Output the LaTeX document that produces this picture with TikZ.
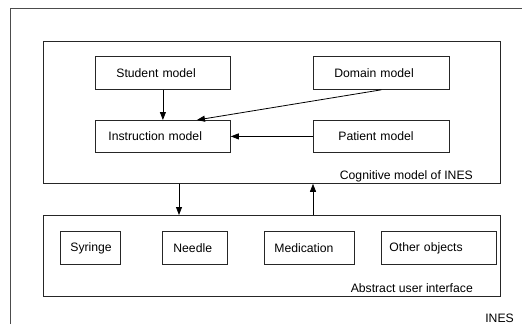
\documentclass[tikz,border=0pt]{standalone}
\usepackage{fontspec}
\setmainfont{Liberation Sans}
\usetikzlibrary{arrows.meta}
\begin{document}
\begin{tikzpicture}[x=1pt,y=-1pt,
  box/.style={draw=black!85,line width=0.8pt},
  item/.style={draw=black!85,line width=0.8pt,inner xsep=0pt,inner ysep=0pt,align=left,
    font=\fontsize{12.2}{14}\selectfont,anchor=north west},
  lbl/.style={inner sep=0pt,anchor=east,font=\fontsize{12.2}{14}\selectfont},
  arr/.style={line width=0.8pt,-{Triangle[length=8pt,width=6pt]}}]
\useasboundingbox (0,0) rectangle (522,324);
% outer frame (open on right and bottom)
\draw[draw=black!70,line width=0.8pt] (10,324) -- (10,8) -- (522,8);
% cognitive model
\node[box,minimum width=457pt,minimum height=142pt,anchor=north west,inner sep=0pt] (cog) at (43,41) {};
\node[item,text width=135pt,minimum height=33pt] (student) at (95,56) {\hspace*{21pt}Student model};
\node[item,text width=136pt,minimum height=33pt] (domain) at (313,56) {\hspace*{21pt}Domain model};
\node[item,text width=135pt,minimum height=32pt] (instr) at (95,120) {\hspace*{13pt}Instruction model};
\node[item,text width=136pt,minimum height=32pt] (patient) at (313,120) {\hspace*{25pt}Patient model};
\node[lbl] (coglbl) at (473,176) {Cognitive model of INES};
\draw[arr] (student) -- (instr);
\draw[arr] (domain.south) -- ([xshift=34pt]instr.north);
\draw[arr] (patient) -- (instr);
% abstract user interface
\node[box,minimum width=457pt,minimum height=81pt,anchor=north west,inner sep=0pt] (aui) at (43,215) {};
\node[item,text width=60pt,minimum height=33pt] (syringe) at (60,231) {\hspace*{10pt}Syringe};
\node[item,text width=65pt,minimum height=33pt] (needle) at (162,231) {\hspace*{11pt}Needle};
\node[item,text width=90pt,minimum height=33pt] (med) at (264,231) {\hspace*{10pt}Medication};
\node[item,text width=115pt,minimum height=33pt] (other) at (381,231) {\hspace*{8pt}Other objects};
\node[lbl] (auilbl) at (473,288) {Abstract user interface};
\draw[arr] (cog.south -| 179,0) -- (aui.north -| 179,0);
\draw[arr] (aui.north -| 313,0) -- (cog.south -| 313,0);
% INES label
\node[lbl] (ines) at (514,318) {INES};
\end{tikzpicture}
\end{document}
